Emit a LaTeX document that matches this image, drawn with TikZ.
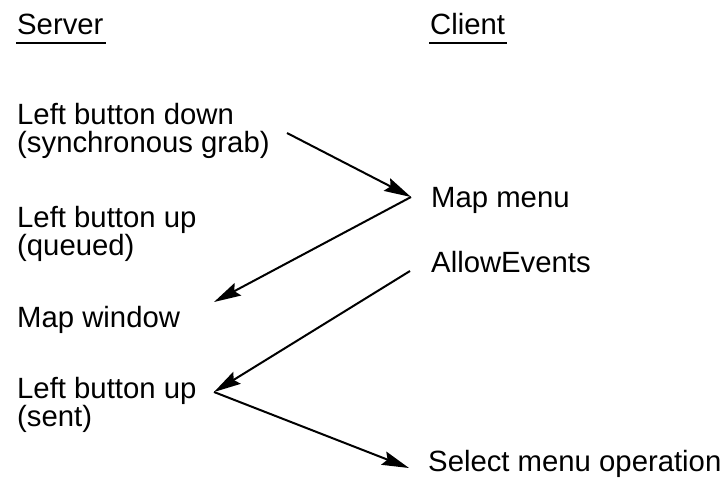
\documentclass[tikz,border=0pt]{standalone}
\usepackage{fontspec}
\setmainfont{Liberation Sans}
\usetikzlibrary{arrows.meta}
\begin{document}
\begin{tikzpicture}[x=1pt,y=-1pt,
  lbl/.style={anchor=base west,inner sep=0pt,align=left,font=\fontsize{29.3}{28}\selectfont},
  conn/.style={line width=2pt,-{Stealth[length=27pt,width=14pt,inset=4pt]}},
  uline/.style={line width=2pt}]
\useasboundingbox (0,0) rectangle (727,489);
\node[lbl] (server) at (17,35) {Server};
\node[lbl] (client) at (430,35) {Client};
\draw[uline] ([xshift=-1pt,yshift=-8pt]server.base west) -- ([xshift=2pt,yshift=-8pt]server.base east);
\draw[uline] ([xshift=-1pt,yshift=-8pt]client.base west) -- ([xshift=2pt,yshift=-8pt]client.base east);

\node[lbl] (lbd) at (17,153) {Left button down\\(synchronous grab)};
\node[lbl] (lbu) at (17,255) {Left button up\\(queued)};
\node[lbl] (mapw) at (17,327) {Map window};
\node[lbl] (lbs) at (17,426) {Left button up\\(sent)};
\node[lbl] (mapm) at (431,207) {Map menu};
\node[lbl] (allow) at (431,272) {AllowEvents};
\node[lbl] (sel) at (428,471) {Select menu operation};

\coordinate (a1) at (287,133);
\coordinate (a2) at (411,197);
\coordinate (a3) at (214,302);
\coordinate (a4) at (410,271);
\coordinate (a5) at (214,392);
\coordinate (a6) at (409,468);

\draw[conn] (a1) -- (a2);
\draw[conn] (a2) -- (a3);
\draw[conn] (a4) -- (a5);
\draw[conn] (a5) -- (a6);
\end{tikzpicture}
\end{document}
